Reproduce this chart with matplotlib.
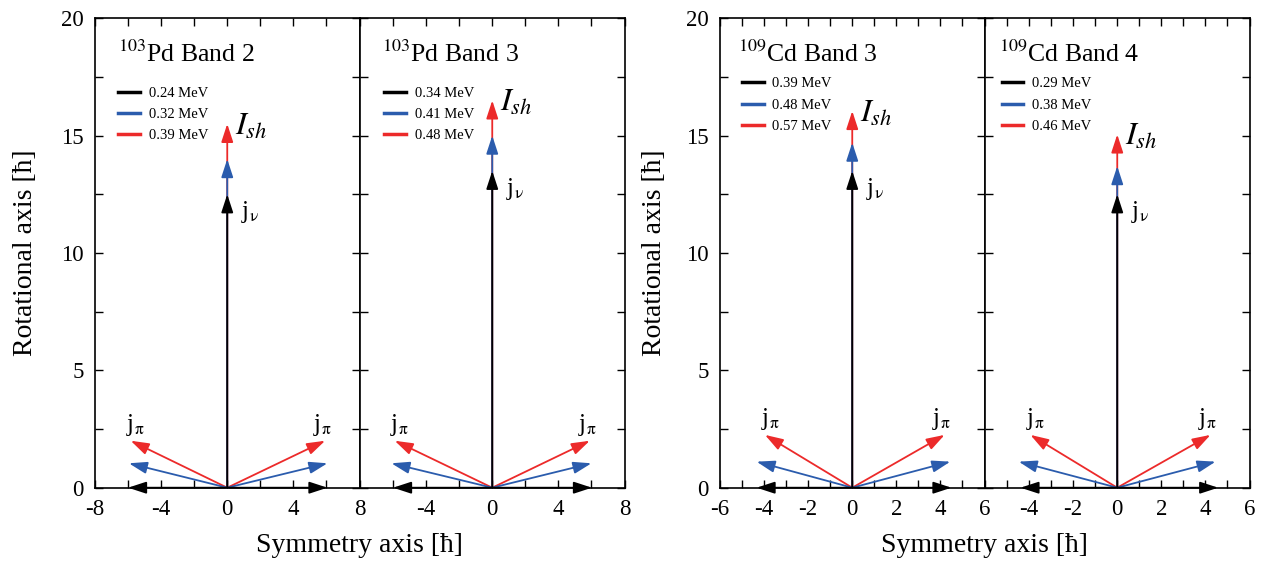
import matplotlib
matplotlib.use('Agg')
import matplotlib.pyplot as plt
from matplotlib.lines import Line2D
from matplotlib.ticker import MultipleLocator, FixedLocator

plt.rcParams['font.family'] = ['Liberation Serif', 'DejaVu Serif']
plt.rcParams['mathtext.fontset'] = 'stix'
plt.rcParams['axes.unicode_minus'] = False

# panel data (black, blue, red for each band)
nuclei = ['103', '103', '109', '109']
bands = ['Pd Band 2', 'Pd Band 3', 'Cd Band 3', 'Cd Band 4']
energies = [[0.24, 0.32, 0.39],
            [0.34, 0.41, 0.48],
            [0.39, 0.48, 0.57],
            [0.29, 0.38, 0.46]]
# j_nu along rotational axis
jnu = [[12.5, 14.0, 15.5],
       [13.5, 15.0, 16.5],
       [13.5, 14.7, 16.05],
       [12.5, 13.7, 15.05]]
# j_pi vectors: left x, right x, y
jpi_left = [[-6.0, -5.95, -5.84],
            [-6.0, -6.1, -5.9],
            [-4.34, -4.34, -3.96],
            [-4.39, -4.47, -3.94]]
jpi_right = [[6.06, 6.06, 5.92],
             [6.03, 6.0, 5.9],
             [4.5, 4.45, 4.19],
             [4.58, 4.46, 4.23]]
jpi_y = [[0.0, 1.04, 2.0],
         [0.0, 1.04, 2.0],
         [0.0, 1.11, 2.25],
         [0.0, 1.11, 2.25]]

colors = ['black', '#2b5cad', '#ec2a2a']
xlims = [8, 8, 6, 6]

fig = plt.figure(figsize=(12.71, 5.63), dpi=100)
W, H = 1271, 563
lefts = [95, 360, 720, 985]
width = 264.5
bottom = 563 - 487.7
height = 469.4
title_x = [0.087, 0.083, 0.068, 0.053]
leg_x = [0.06, 0.065, 0.055, 0.035]
leg_y = [0.87, 0.87, 0.89, 0.89]

axes = []
for i in range(4):
    ax = fig.add_axes([lefts[i] / W, bottom / H, width / W, height / H])
    axes.append(ax)
    xl = xlims[i]
    ax.set_xlim(-xl, xl)
    ax.set_ylim(0, 20)
    if xl == 8:
        ax.xaxis.set_major_locator(FixedLocator([-8, -4, 0, 4, 8] if i == 0 else [-4, 0, 4, 8]))
        ax.xaxis.set_minor_locator(MultipleLocator(2))
    else:
        ax.xaxis.set_major_locator(FixedLocator([-6, -4, -2, 0, 2, 4, 6] if i == 2 else [-4, -2, 0, 2, 4, 6]))
        ax.xaxis.set_minor_locator(MultipleLocator(1))
    ax.yaxis.set_major_locator(MultipleLocator(5))
    ax.yaxis.set_minor_locator(MultipleLocator(2.5))
    ax.tick_params(which='both', direction='in', top=True, right=True,
                   length=6, width=1, labelsize=16.5, pad=8)
    if i in (1, 3):
        ax.tick_params(labelleft=False)
    for s in ax.spines.values():
        s.set_linewidth(1.2)

    # vertical vectors: red first, black on top
    for k in [2, 1, 0]:
        ax.annotate('', xy=(0, jnu[i][k]), xytext=(0, 0),
                    arrowprops=dict(arrowstyle='-|>,head_length=0.55,head_width=0.18',
                                    mutation_scale=20, color=colors[k], lw=1.3,
                                    shrinkA=0, shrinkB=0), annotation_clip=False)
        for xs in (jpi_left[i][k], jpi_right[i][k]):
            ax.annotate('', xy=(xs, jpi_y[i][k]), xytext=(0, 0),
                        arrowprops=dict(arrowstyle='-|>,head_length=0.55,head_width=0.18',
                                        mutation_scale=20, color=colors[k], lw=1.3,
                                        shrinkA=0, shrinkB=0, clip_on=False),
                        annotation_clip=False)

    ax.annotate(r'$I_{sh}$', xy=(0, jnu[i][2]), xytext=(8, -3), textcoords='offset pixels',
                ha='left', va='center', fontsize=23)
    ax.annotate(r'j$_{\mathrm{\nu}}$', xy=(0, jnu[i][0]), xytext=(14, -18), textcoords='offset pixels',
                ha='left', va='center', fontsize=18)
    ax.annotate(r'j$_{\mathrm{\pi}}$', xy=(jpi_left[i][2], jpi_y[i][2]), xytext=(5, 10),
                textcoords='offset pixels', ha='center', va='baseline', fontsize=18)
    ax.annotate(r'j$_{\mathrm{\pi}}$', xy=(jpi_right[i][2], jpi_y[i][2]), xytext=(-3, 10),
                textcoords='offset pixels', ha='center', va='baseline', fontsize=18)

    ax.text(title_x[i], 0.907, r'$^{\mathrm{' + nuclei[i] + r'}}$' + bands[i],
            transform=ax.transAxes, fontsize=18.5, ha='left', va='baseline')

    handles = [Line2D([], [], color=c, lw=2.5) for c in colors]
    ax.legend(handles, ['%.2f MeV' % e for e in energies[i]], loc='upper left',
              bbox_to_anchor=(leg_x[i], leg_y[i]), frameon=False, fontsize=10.5,
              handlelength=1.5, handletextpad=0.6, labelspacing=0.55, borderpad=0)

axes[0].set_ylabel('Rotational axis [ħ]', fontsize=20, labelpad=17)
axes[2].set_ylabel('Rotational axis [ħ]', fontsize=20, labelpad=14)
fig.text((lefts[0] + width) / W, 18 / H, 'Symmetry axis [ħ]', fontsize=20, ha='center', va='center')
fig.text((lefts[2] + width) / W, 18 / H, 'Symmetry axis [ħ]', fontsize=20, ha='center', va='center')

fig.savefig('out.png', dpi=100)
